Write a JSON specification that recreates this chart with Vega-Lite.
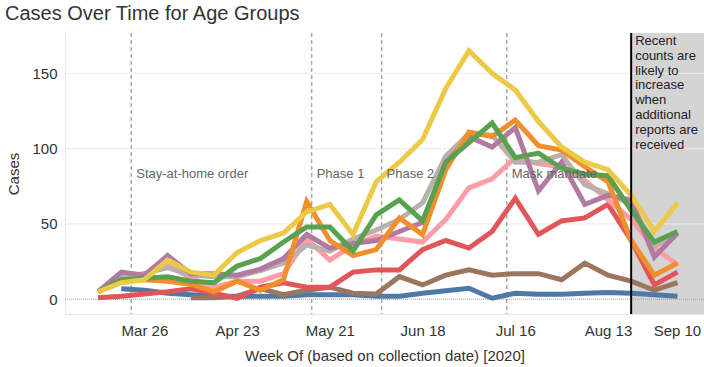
{
  "$schema": "https://vega.github.io/schema/vega-lite/v6.json",
  "width": 639,
  "height": 281,
  "autosize": {"type": "none"},
  "padding": {"left": 65, "top": 33, "right": 0, "bottom": 53},
  "title": {"text": "Cases Over Time for Age Groups", "anchor": "start", "frame": "group", "fontSize": 20, "fontWeight": "normal", "color": "#333333", "dx": -60, "offset": 8},
  "config": {"view": {"stroke": null}, "font": "Liberation Sans"},
  "datasets": {
    "grid": [{"cases": 50}, {"cases": 100}, {"cases": 150}],
    "events": [
      {"week": "2020-03-22T00:00:00Z", "label": "Stay-at-home order"},
      {"week": "2020-05-15T12:00:00Z", "label": "Phase 1"},
      {"week": "2020-06-05T15:00:00Z", "label": "Phase 2"},
      {"week": "2020-07-13T10:00:00Z", "label": "Mask mandate"}
    ],
    "cases": [
      {"week": "2020-03-19", "group": "80+", "cases": 7},
      {"week": "2020-03-26", "group": "80+", "cases": 6},
      {"week": "2020-04-02", "group": "80+", "cases": 4},
      {"week": "2020-04-09", "group": "80+", "cases": 3},
      {"week": "2020-04-16", "group": "80+", "cases": 2},
      {"week": "2020-04-23", "group": "80+", "cases": 2},
      {"week": "2020-04-30", "group": "80+", "cases": 2},
      {"week": "2020-05-07", "group": "80+", "cases": 2},
      {"week": "2020-05-14", "group": "80+", "cases": 3},
      {"week": "2020-05-21", "group": "80+", "cases": 3},
      {"week": "2020-05-28", "group": "80+", "cases": 3},
      {"week": "2020-06-04", "group": "80+", "cases": 2},
      {"week": "2020-06-11", "group": "80+", "cases": 2},
      {"week": "2020-06-18", "group": "80+", "cases": 4},
      {"week": "2020-06-25", "group": "80+", "cases": 5.7},
      {"week": "2020-07-02", "group": "80+", "cases": 7.3},
      {"week": "2020-07-09", "group": "80+", "cases": 0.7},
      {"week": "2020-07-16", "group": "80+", "cases": 4},
      {"week": "2020-07-23", "group": "80+", "cases": 3.3},
      {"week": "2020-07-30", "group": "80+", "cases": 3.3},
      {"week": "2020-08-06", "group": "80+", "cases": 4},
      {"week": "2020-08-13", "group": "80+", "cases": 4.4},
      {"week": "2020-08-20", "group": "80+", "cases": 4},
      {"week": "2020-08-27", "group": "80+", "cases": 3},
      {"week": "2020-09-03", "group": "80+", "cases": 2},

      {"week": "2020-04-09", "group": "70-79", "cases": 1},
      {"week": "2020-04-16", "group": "70-79", "cases": 1},
      {"week": "2020-04-23", "group": "70-79", "cases": 2},
      {"week": "2020-04-30", "group": "70-79", "cases": 7},
      {"week": "2020-05-07", "group": "70-79", "cases": 3},
      {"week": "2020-05-14", "group": "70-79", "cases": 6},
      {"week": "2020-05-21", "group": "70-79", "cases": 8},
      {"week": "2020-05-28", "group": "70-79", "cases": 4},
      {"week": "2020-06-04", "group": "70-79", "cases": 3.5},
      {"week": "2020-06-11", "group": "70-79", "cases": 15},
      {"week": "2020-06-18", "group": "70-79", "cases": 9.5},
      {"week": "2020-06-25", "group": "70-79", "cases": 16},
      {"week": "2020-07-02", "group": "70-79", "cases": 19.5},
      {"week": "2020-07-09", "group": "70-79", "cases": 16},
      {"week": "2020-07-16", "group": "70-79", "cases": 17},
      {"week": "2020-07-23", "group": "70-79", "cases": 17},
      {"week": "2020-07-30", "group": "70-79", "cases": 13},
      {"week": "2020-08-06", "group": "70-79", "cases": 24},
      {"week": "2020-08-13", "group": "70-79", "cases": 16},
      {"week": "2020-08-20", "group": "70-79", "cases": 12},
      {"week": "2020-08-27", "group": "70-79", "cases": 6},
      {"week": "2020-09-03", "group": "70-79", "cases": 11},

      {"week": "2020-03-12", "group": "0-9", "cases": 1},
      {"week": "2020-03-19", "group": "0-9", "cases": 2},
      {"week": "2020-03-26", "group": "0-9", "cases": 3.5},
      {"week": "2020-04-02", "group": "0-9", "cases": 5},
      {"week": "2020-04-09", "group": "0-9", "cases": 7},
      {"week": "2020-04-16", "group": "0-9", "cases": 4},
      {"week": "2020-04-23", "group": "0-9", "cases": 0.5},
      {"week": "2020-04-30", "group": "0-9", "cases": 8},
      {"week": "2020-05-07", "group": "0-9", "cases": 11},
      {"week": "2020-05-14", "group": "0-9", "cases": 8},
      {"week": "2020-05-21", "group": "0-9", "cases": 8},
      {"week": "2020-05-28", "group": "0-9", "cases": 18},
      {"week": "2020-06-04", "group": "0-9", "cases": 19.5},
      {"week": "2020-06-11", "group": "0-9", "cases": 19.5},
      {"week": "2020-06-18", "group": "0-9", "cases": 33},
      {"week": "2020-06-25", "group": "0-9", "cases": 39},
      {"week": "2020-07-02", "group": "0-9", "cases": 34},
      {"week": "2020-07-09", "group": "0-9", "cases": 45},
      {"week": "2020-07-16", "group": "0-9", "cases": 67},
      {"week": "2020-07-23", "group": "0-9", "cases": 43},
      {"week": "2020-07-30", "group": "0-9", "cases": 52},
      {"week": "2020-08-06", "group": "0-9", "cases": 54},
      {"week": "2020-08-13", "group": "0-9", "cases": 63},
      {"week": "2020-08-20", "group": "0-9", "cases": 39},
      {"week": "2020-08-27", "group": "0-9", "cases": 9.5},
      {"week": "2020-09-03", "group": "0-9", "cases": 18},

      {"week": "2020-03-12", "group": "60-69", "cases": 5},
      {"week": "2020-03-19", "group": "60-69", "cases": 14},
      {"week": "2020-03-26", "group": "60-69", "cases": 17},
      {"week": "2020-04-02", "group": "60-69", "cases": 23},
      {"week": "2020-04-09", "group": "60-69", "cases": 14},
      {"week": "2020-04-16", "group": "60-69", "cases": 8},
      {"week": "2020-04-23", "group": "60-69", "cases": 12},
      {"week": "2020-04-30", "group": "60-69", "cases": 12},
      {"week": "2020-05-07", "group": "60-69", "cases": 17},
      {"week": "2020-05-14", "group": "60-69", "cases": 40},
      {"week": "2020-05-21", "group": "60-69", "cases": 26},
      {"week": "2020-05-28", "group": "60-69", "cases": 36},
      {"week": "2020-06-04", "group": "60-69", "cases": 42},
      {"week": "2020-06-11", "group": "60-69", "cases": 40},
      {"week": "2020-06-18", "group": "60-69", "cases": 38},
      {"week": "2020-06-25", "group": "60-69", "cases": 53},
      {"week": "2020-07-02", "group": "60-69", "cases": 74},
      {"week": "2020-07-09", "group": "60-69", "cases": 80},
      {"week": "2020-07-16", "group": "60-69", "cases": 94},
      {"week": "2020-07-23", "group": "60-69", "cases": 90},
      {"week": "2020-07-30", "group": "60-69", "cases": 88},
      {"week": "2020-08-06", "group": "60-69", "cases": 79},
      {"week": "2020-08-13", "group": "60-69", "cases": 66},
      {"week": "2020-08-20", "group": "60-69", "cases": 53},
      {"week": "2020-08-27", "group": "60-69", "cases": 34},
      {"week": "2020-09-03", "group": "60-69", "cases": 23},

      {"week": "2020-03-12", "group": "50-59", "cases": 5},
      {"week": "2020-03-19", "group": "50-59", "cases": 15},
      {"week": "2020-03-26", "group": "50-59", "cases": 17},
      {"week": "2020-04-02", "group": "50-59", "cases": 21},
      {"week": "2020-04-09", "group": "50-59", "cases": 16},
      {"week": "2020-04-16", "group": "50-59", "cases": 15},
      {"week": "2020-04-23", "group": "50-59", "cases": 15},
      {"week": "2020-04-30", "group": "50-59", "cases": 19},
      {"week": "2020-05-07", "group": "50-59", "cases": 24},
      {"week": "2020-05-14", "group": "50-59", "cases": 36},
      {"week": "2020-05-21", "group": "50-59", "cases": 32},
      {"week": "2020-05-28", "group": "50-59", "cases": 40},
      {"week": "2020-06-04", "group": "50-59", "cases": 46},
      {"week": "2020-06-11", "group": "50-59", "cases": 53},
      {"week": "2020-06-18", "group": "50-59", "cases": 64},
      {"week": "2020-06-25", "group": "50-59", "cases": 95},
      {"week": "2020-07-02", "group": "50-59", "cases": 110},
      {"week": "2020-07-09", "group": "50-59", "cases": 109},
      {"week": "2020-07-16", "group": "50-59", "cases": 91},
      {"week": "2020-07-23", "group": "50-59", "cases": 91},
      {"week": "2020-07-30", "group": "50-59", "cases": 96},
      {"week": "2020-08-06", "group": "50-59", "cases": 76},
      {"week": "2020-08-13", "group": "50-59", "cases": 70},
      {"week": "2020-08-20", "group": "50-59", "cases": 63},
      {"week": "2020-08-27", "group": "50-59", "cases": 35},
      {"week": "2020-09-03", "group": "50-59", "cases": 44},

      {"week": "2020-03-12", "group": "40-49", "cases": 5},
      {"week": "2020-03-19", "group": "40-49", "cases": 18},
      {"week": "2020-03-26", "group": "40-49", "cases": 16},
      {"week": "2020-04-02", "group": "40-49", "cases": 29},
      {"week": "2020-04-09", "group": "40-49", "cases": 17},
      {"week": "2020-04-16", "group": "40-49", "cases": 17},
      {"week": "2020-04-23", "group": "40-49", "cases": 16},
      {"week": "2020-04-30", "group": "40-49", "cases": 20},
      {"week": "2020-05-07", "group": "40-49", "cases": 27},
      {"week": "2020-05-14", "group": "40-49", "cases": 43},
      {"week": "2020-05-21", "group": "40-49", "cases": 34},
      {"week": "2020-05-28", "group": "40-49", "cases": 37},
      {"week": "2020-06-04", "group": "40-49", "cases": 39},
      {"week": "2020-06-11", "group": "40-49", "cases": 45},
      {"week": "2020-06-18", "group": "40-49", "cases": 51},
      {"week": "2020-06-25", "group": "40-49", "cases": 90},
      {"week": "2020-07-02", "group": "40-49", "cases": 108},
      {"week": "2020-07-09", "group": "40-49", "cases": 101},
      {"week": "2020-07-16", "group": "40-49", "cases": 114},
      {"week": "2020-07-23", "group": "40-49", "cases": 72},
      {"week": "2020-07-30", "group": "40-49", "cases": 91},
      {"week": "2020-08-06", "group": "40-49", "cases": 63},
      {"week": "2020-08-13", "group": "40-49", "cases": 69},
      {"week": "2020-08-20", "group": "40-49", "cases": 66},
      {"week": "2020-08-27", "group": "40-49", "cases": 28},
      {"week": "2020-09-03", "group": "40-49", "cases": 44},

      {"week": "2020-03-12", "group": "10-19", "cases": 5},
      {"week": "2020-03-19", "group": "10-19", "cases": 12},
      {"week": "2020-03-26", "group": "10-19", "cases": 13},
      {"week": "2020-04-02", "group": "10-19", "cases": 12},
      {"week": "2020-04-09", "group": "10-19", "cases": 10},
      {"week": "2020-04-16", "group": "10-19", "cases": 5},
      {"week": "2020-04-23", "group": "10-19", "cases": 12},
      {"week": "2020-04-30", "group": "10-19", "cases": 6},
      {"week": "2020-05-07", "group": "10-19", "cases": 13},
      {"week": "2020-05-14", "group": "10-19", "cases": 65},
      {"week": "2020-05-21", "group": "10-19", "cases": 39},
      {"week": "2020-05-28", "group": "10-19", "cases": 29},
      {"week": "2020-06-04", "group": "10-19", "cases": 33},
      {"week": "2020-06-11", "group": "10-19", "cases": 54},
      {"week": "2020-06-18", "group": "10-19", "cases": 43},
      {"week": "2020-06-25", "group": "10-19", "cases": 86},
      {"week": "2020-07-02", "group": "10-19", "cases": 111},
      {"week": "2020-07-09", "group": "10-19", "cases": 108},
      {"week": "2020-07-16", "group": "10-19", "cases": 119},
      {"week": "2020-07-23", "group": "10-19", "cases": 102},
      {"week": "2020-07-30", "group": "10-19", "cases": 99},
      {"week": "2020-08-06", "group": "10-19", "cases": 88},
      {"week": "2020-08-13", "group": "10-19", "cases": 78},
      {"week": "2020-08-20", "group": "10-19", "cases": 39},
      {"week": "2020-08-27", "group": "10-19", "cases": 16},
      {"week": "2020-09-03", "group": "10-19", "cases": 24},

      {"week": "2020-03-12", "group": "30-39", "cases": 5},
      {"week": "2020-03-19", "group": "30-39", "cases": 13},
      {"week": "2020-03-26", "group": "30-39", "cases": 14},
      {"week": "2020-04-02", "group": "30-39", "cases": 15},
      {"week": "2020-04-09", "group": "30-39", "cases": 12},
      {"week": "2020-04-16", "group": "30-39", "cases": 11},
      {"week": "2020-04-23", "group": "30-39", "cases": 22},
      {"week": "2020-04-30", "group": "30-39", "cases": 27},
      {"week": "2020-05-07", "group": "30-39", "cases": 38},
      {"week": "2020-05-14", "group": "30-39", "cases": 48},
      {"week": "2020-05-21", "group": "30-39", "cases": 48},
      {"week": "2020-05-28", "group": "30-39", "cases": 32},
      {"week": "2020-06-04", "group": "30-39", "cases": 56},
      {"week": "2020-06-11", "group": "30-39", "cases": 66},
      {"week": "2020-06-18", "group": "30-39", "cases": 52},
      {"week": "2020-06-25", "group": "30-39", "cases": 91},
      {"week": "2020-07-02", "group": "30-39", "cases": 104},
      {"week": "2020-07-09", "group": "30-39", "cases": 117},
      {"week": "2020-07-16", "group": "30-39", "cases": 94},
      {"week": "2020-07-23", "group": "30-39", "cases": 97},
      {"week": "2020-07-30", "group": "30-39", "cases": 87},
      {"week": "2020-08-06", "group": "30-39", "cases": 83},
      {"week": "2020-08-13", "group": "30-39", "cases": 82},
      {"week": "2020-08-20", "group": "30-39", "cases": 59},
      {"week": "2020-08-27", "group": "30-39", "cases": 38},
      {"week": "2020-09-03", "group": "30-39", "cases": 45},

      {"week": "2020-03-12", "group": "20-29", "cases": 5},
      {"week": "2020-03-19", "group": "20-29", "cases": 11},
      {"week": "2020-03-26", "group": "20-29", "cases": 13},
      {"week": "2020-04-02", "group": "20-29", "cases": 26},
      {"week": "2020-04-09", "group": "20-29", "cases": 18},
      {"week": "2020-04-16", "group": "20-29", "cases": 16},
      {"week": "2020-04-23", "group": "20-29", "cases": 31},
      {"week": "2020-04-30", "group": "20-29", "cases": 39},
      {"week": "2020-05-07", "group": "20-29", "cases": 44},
      {"week": "2020-05-14", "group": "20-29", "cases": 58},
      {"week": "2020-05-21", "group": "20-29", "cases": 63},
      {"week": "2020-05-28", "group": "20-29", "cases": 43},
      {"week": "2020-06-04", "group": "20-29", "cases": 78},
      {"week": "2020-06-11", "group": "20-29", "cases": 91},
      {"week": "2020-06-18", "group": "20-29", "cases": 106},
      {"week": "2020-06-25", "group": "20-29", "cases": 140},
      {"week": "2020-07-02", "group": "20-29", "cases": 165},
      {"week": "2020-07-09", "group": "20-29", "cases": 150},
      {"week": "2020-07-16", "group": "20-29", "cases": 139},
      {"week": "2020-07-23", "group": "20-29", "cases": 118},
      {"week": "2020-07-30", "group": "20-29", "cases": 101},
      {"week": "2020-08-06", "group": "20-29", "cases": 91},
      {"week": "2020-08-13", "group": "20-29", "cases": 86},
      {"week": "2020-08-20", "group": "20-29", "cases": 69},
      {"week": "2020-08-27", "group": "20-29", "cases": 45},
      {"week": "2020-09-03", "group": "20-29", "cases": 64}
    ]
  },
  "layer": [
    {
      "data": {"values": [{"week": "2020-08-20", "end": "2020-09-11"}]},
      "mark": {"type": "rect", "color": "#d4d4d4"},
      "encoding": {
        "x": {"field": "week", "type": "temporal"},
        "x2": {"field": "end"}
      }
    },
    {
      "data": {"name": "grid"},
      "mark": {"type": "rule", "color": "#ebebeb", "strokeWidth": 1},
      "encoding": {"y": {"field": "cases", "type": "quantitative"}}
    },
    {
      "data": {"values": [{"cases": 0}]},
      "mark": {"type": "rule", "color": "#a0a0a0", "strokeWidth": 1, "strokeDash": [1, 1]},
      "encoding": {"y": {"field": "cases", "type": "quantitative"}}
    },
    {
      "data": {"name": "events"},
      "mark": {"type": "rule", "color": "#a6a6a6", "strokeWidth": 1.5, "strokeDash": [4, 3]},
      "encoding": {"x": {"field": "week", "type": "temporal"}}
    },
    {
      "data": {"name": "cases"},
      "mark": {"type": "line", "strokeWidth": 5},
      "encoding": {
        "x": {
          "field": "week",
          "type": "temporal",
          "scale": {"type": "utc", "domain": [{"year": 2020, "month": 3, "date": 2, "utc": true}, {"year": 2020, "month": 9, "date": 11, "utc": true}]},
          "axis": {
            "title": "Week Of (based on collection date) [2020]",
            "values": [
              {"year": 2020, "month": 3, "date": 26, "utc": true},
              {"year": 2020, "month": 4, "date": 23, "utc": true},
              {"year": 2020, "month": 5, "date": 21, "utc": true},
              {"year": 2020, "month": 6, "date": 18, "utc": true},
              {"year": 2020, "month": 7, "date": 16, "utc": true},
              {"year": 2020, "month": 8, "date": 13, "utc": true},
              {"year": 2020, "month": 9, "date": 10, "utc": true}
            ],
            "format": "%b %d",
            "grid": false,
            "ticks": false,
            "domainColor": "#e6e6e6",
            "labelFontSize": 15,
            "labelColor": "#333333",
            "labelPadding": 9,
            "labelFlush": 5,
            "labelOverlap": false,
            "titleFontSize": 15,
            "titleFontWeight": "normal",
            "titleColor": "#333333",
            "titlePadding": 10
          }
        },
        "y": {
          "field": "cases",
          "type": "quantitative",
          "scale": {"domain": [-9.8, 176.8], "nice": false, "zero": false},
          "axis": {
            "title": "Cases",
            "values": [0, 50, 100, 150],
            "grid": false,
            "ticks": false,
            "domainColor": "#e6e6e6",
            "labelFontSize": 15,
            "labelColor": "#333333",
            "labelPadding": 8,
            "titleFontSize": 15,
            "titleFontWeight": "normal",
            "titleColor": "#333333",
            "titlePadding": 10
          }
        },
        "color": {
          "field": "group",
          "type": "nominal",
          "scale": {
            "domain": ["80+", "70-79", "0-9", "60-69", "50-59", "40-49", "10-19", "30-39", "20-29"],
            "range": ["#4e79a7", "#9c755f", "#e15759", "#ff9da7", "#bab0ac", "#b07aa1", "#f28e2b", "#59a14f", "#edc948"]
          },
          "legend": null
        }
      }
    },
    {
      "data": {"name": "events"},
      "mark": {"type": "text", "align": "left", "baseline": "middle", "dx": 5, "fontSize": 13, "color": "#666666"},
      "encoding": {
        "x": {"field": "week", "type": "temporal"},
        "y": {"datum": 83, "type": "quantitative"},
        "text": {"field": "label"}
      }
    },
    {
      "data": {"values": [{"week": "2020-08-20"}]},
      "mark": {"type": "rule", "color": "#000000", "strokeWidth": 2},
      "encoding": {"x": {"field": "week", "type": "temporal"}}
    },
    {
      "data": {"values": [{"week": "2020-08-20", "note": "Recent\ncounts are\nlikely to\nincrease\nwhen\nadditional\nreports are\nreceived"}]},
      "mark": {"type": "text", "align": "left", "baseline": "top", "dx": 4, "dy": 2, "fontSize": 13, "lineHeight": 14.8, "lineBreak": "\n", "color": "#222222"},
      "encoding": {
        "x": {"field": "week", "type": "temporal"},
        "y": {"datum": 176.8, "type": "quantitative"},
        "text": {"field": "note"}
      }
    }
  ]
}
